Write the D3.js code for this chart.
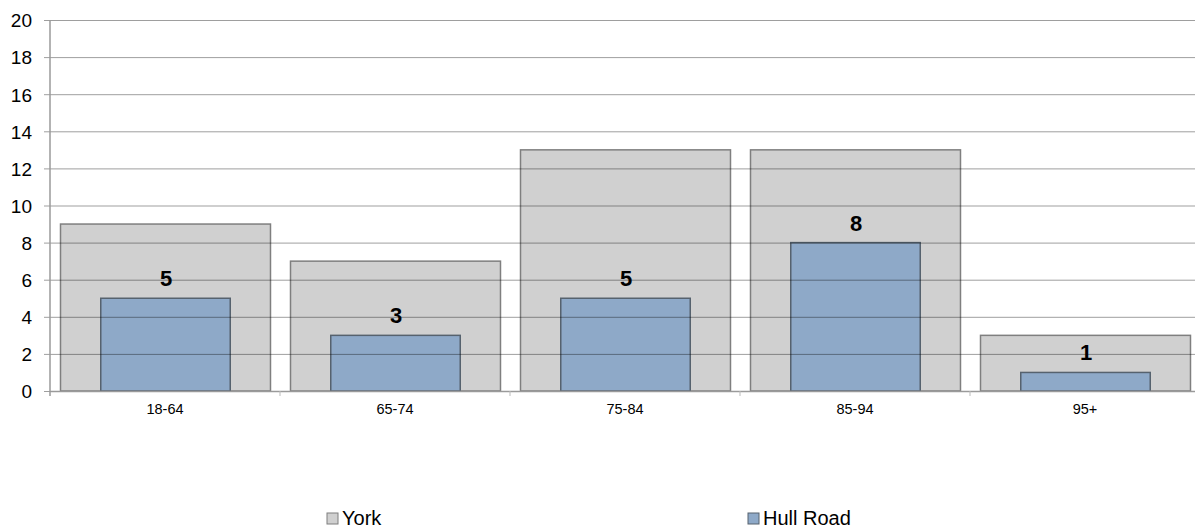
<!DOCTYPE html>
<html>
<head>
<meta charset="utf-8">
<script src="https://cdn.jsdelivr.net/npm/d3@7"></script>
<style>
body { margin: 0; background: #fff; overflow: hidden; }
text { font-family: "Liberation Sans", Arial, sans-serif; }
</style>
</head>
<body>
<svg id="chart"></svg>
<script>
var width = 1195,
	height = 530;

var categories = ["18-64", "65-74", "75-84", "85-94", "95+"];
var york = [9, 7, 13, 13, 3];
var hullRoad = [5, 3, 5, 8, 1];
var yTicks = [0, 2, 4, 6, 8, 10, 12, 14, 16, 18, 20];

var plotLeft = 50, plotRight = 1200, plotTop = 20, plotBottom = 391;

var svg = d3.select("#chart")
	.attr("width", width)
	.attr("height", height);

var x = d3.scaleBand()
	.domain(categories)
	.range([plotLeft, plotRight]);

var y = d3.scaleLinear()
	.domain([0, 20])
	.range([plotBottom, plotTop]);

// york bars (wide, behind)
var yorkW = x.bandwidth() * 0.913;
svg.append("g").selectAll("rect")
	.data(york)
	.enter()
	.append("rect")
	.attr("x", function (d, i) { return x(categories[i]) + (x.bandwidth() - yorkW) / 2 + 0.5; })
	.attr("y", function (d) { return y(d); })
	.attr("width", yorkW)
	.attr("height", function (d) { return y(0) - y(d); })
	.attr("fill", "#d0d0d0")
	.attr("stroke", "#7f7f7f")
	.attr("stroke-width", 1.5);

// hull road bars
var hullW = x.bandwidth() * 0.563;
svg.append("g").selectAll("rect")
	.data(hullRoad)
	.enter()
	.append("rect")
	.attr("x", function (d, i) { return x(categories[i]) + (x.bandwidth() - hullW) / 2 + 0.5; })
	.attr("y", function (d) { return y(d); })
	.attr("width", hullW)
	.attr("height", function (d) { return y(0) - y(d); })
	.attr("fill", "#8ea9c8")
	.attr("stroke", "#56626e")
	.attr("stroke-width", 1.5);

// gridlines on top, semi transparent
var yAxis = d3.axisLeft(y)
	.tickValues(yTicks)
	.tickSize(-(plotRight - plotLeft) - 6)
	.tickPadding(12);

var gY = svg.append("g")
	.attr("transform", "translate(" + (plotLeft - 6) + ",0)")
	.call(yAxis);
gY.select(".domain").remove();
gY.selectAll(".tick line")
	.attr("stroke", "#000")
	.attr("stroke-opacity", 0.38);
gY.selectAll(".tick text")
	.attr("fill", "#000")
	.attr("dy", "0.36em")
	.style("font-size", "19px");

// y axis line
svg.append("line")
	.attr("x1", plotLeft).attr("x2", plotLeft)
	.attr("y1", y(20)).attr("y2", y(0) + 5)
	.attr("stroke", "#9a9a9a")
	.attr("stroke-width", 1.5);

// x axis
var xAxis = d3.axisBottom(x).tickSize(0).tickPadding(13);
var gX = svg.append("g")
	.attr("transform", "translate(0," + y(0) + ")")
	.call(xAxis);
gX.select(".domain")
	.attr("stroke", "#9a9a9a")
	.attr("stroke-width", 1.5);
gX.selectAll(".tick text")
	.attr("fill", "#000")
	.style("font-size", "14.5px");

// category separators
svg.append("g").selectAll("line")
	.data(categories.slice(1))
	.enter()
	.append("line")
	.attr("x1", function (d) { return x(d); })
	.attr("x2", function (d) { return x(d); })
	.attr("y1", y(0))
	.attr("y2", y(0) + 5)
	.attr("stroke", "#bbbbbb");

// data labels
svg.append("g").selectAll("text")
	.data(hullRoad)
	.enter()
	.append("text")
	.attr("x", function (d, i) { return x(categories[i]) + x.bandwidth() / 2 + 1; })
	.attr("y", function (d) { return y(d) - 12; })
	.attr("text-anchor", "middle")
	.style("font-size", "22px")
	.style("font-weight", "bold")
	.text(function (d) { return d; });

// legend
var legend = [
	{ name: "York", fill: "#d0d0d0", stroke: "#7f7f7f", x: 327 },
	{ name: "Hull Road", fill: "#8ea9c8", stroke: "#56626e", x: 748 }
];
var lg = svg.append("g").selectAll("g")
	.data(legend)
	.enter()
	.append("g")
	.attr("transform", function (d) { return "translate(" + d.x + ",513)"; });
lg.append("rect")
	.attr("width", 11).attr("height", 11)
	.attr("fill", function (d) { return d.fill; })
	.attr("stroke", function (d) { return d.stroke; });
lg.append("text")
	.attr("x", 15).attr("y", 12)
	.style("font-size", "20px")
	.text(function (d) { return d.name; });
</script>
</body>
</html>
